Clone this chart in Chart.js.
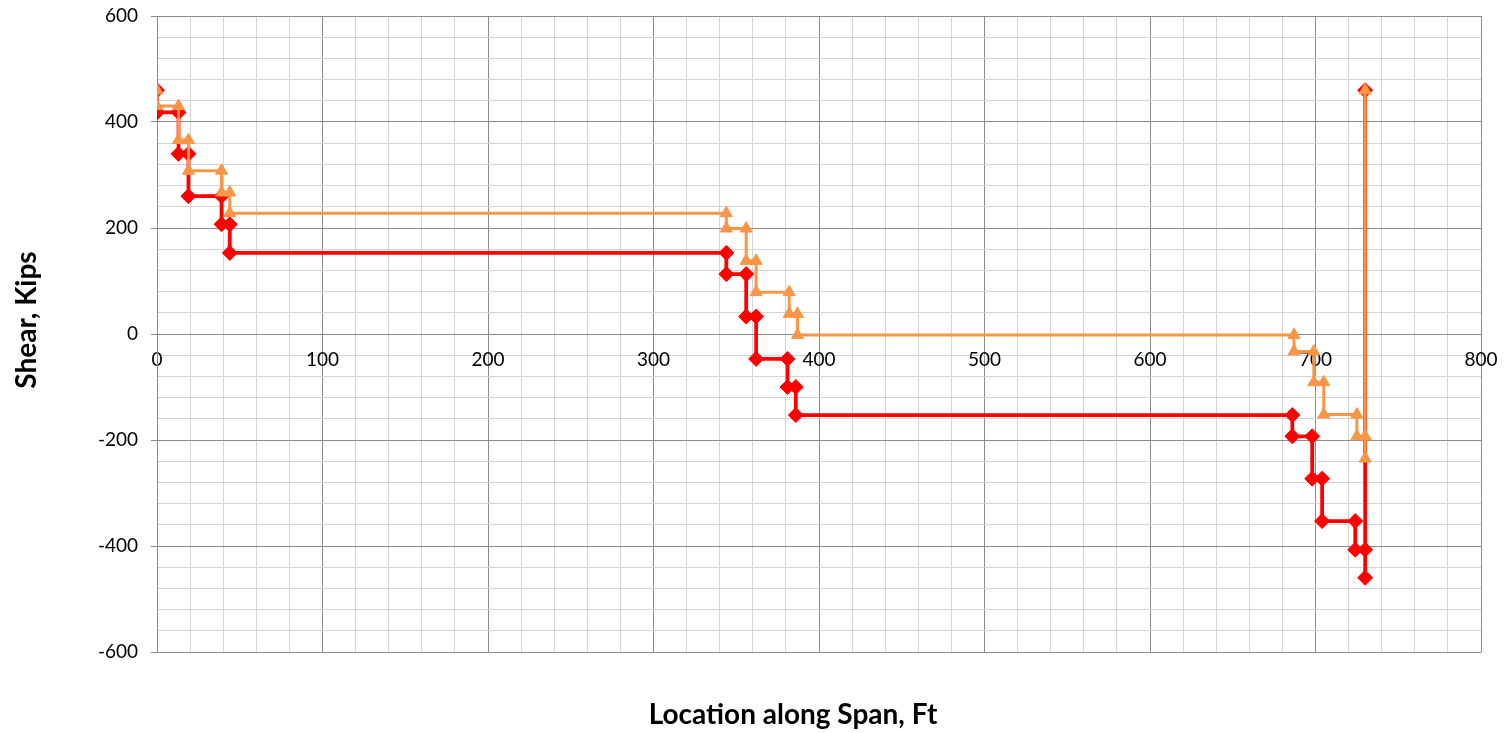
<!DOCTYPE html>
<html>
<head>
<meta charset="utf-8">
<title>Shear along span</title>
<script src="https://cdn.jsdelivr.net/npm/chart.js@4.4.1/dist/chart.umd.min.js"></script>
<style>
    body{ margin:0; background:#fff; }
    #wrap{ position:relative; width:1506px; height:733px; }
</style>
</head>
<body>
<div id="wrap"><canvas id="shear_graph"></canvas></div>
<script>
// location along span (ft) and shear (kips), red envelope
var redLoc   = [0, 0, 13, 13, 19, 19, 39, 39, 44, 44, 344, 344, 356, 356, 362, 362, 381, 381, 386, 386, 686, 686, 698, 698, 704, 704, 724, 724, 730, 730, 730];
var redShear = [460, 418, 418, 340, 340, 260, 260, 207, 207, 153, 153, 113, 113, 33, 33, -47, -47, -100, -100, -153, -153, -193, -193, -273, -273, -353, -353, -407, -407, -460, 460];

// orange envelope
var orangeLoc   = [0, 0, 13, 13, 19, 19, 39, 39, 44, 44, 344, 344, 356, 356, 362, 362, 382, 382, 387, 387, 687, 687, 699, 699, 705, 705, 725, 725, 730, 730, 730];
var orangeShear = [460, 430, 430, 366, 366, 308, 308, 267, 267, 228, 228, 199, 199, 138, 138, 79, 79, 38, 38, -2, -2, -33, -33, -91, -91, -152, -152, -193, -193, -235, 460];

// labelled ticks
var xLabels = [0, 100, 200, 300, 400, 500, 600, 700, 800];
var yLabels = [-600, -400, -200, 0, 200, 400, 600];

var majorGrid = '#8c8c8c';
var minorGrid = '#d4d4d4';

function points(xs, ys){
    var out = [];
    for(var i = 0; i < xs.length; i++){
        out.push({x: xs[i], y: ys[i]});
    }
    return out;
}

// axis titles drawn where excel puts them
const axisTitles = {
    id: 'axisTitles',
    afterDraw(chart){
        var ctx = chart.ctx;
        ctx.save();
        ctx.font = 'bold 28px Lato';
        ctx.fillStyle = '#000';
        ctx.textAlign = 'center';
        ctx.textBaseline = 'middle';
        ctx.fillText('Location along Span, Ft', 793, 715);
        ctx.translate(27, 320);
        ctx.rotate(-Math.PI / 2);
        ctx.fillText('Shear, Kips', 0, 0);
        ctx.restore();
    }
};

const data = {
    datasets: [{
        label: 'orange',
        data: points(orangeLoc, orangeShear),
        borderColor: '#f79646',
        backgroundColor: '#f79646',
        borderWidth: 3,
        pointStyle: 'triangle',
        pointRadius: 7,
        pointBorderWidth: 1,
        order: 1
    }, {
        label: 'red',
        data: points(redLoc, redShear),
        borderColor: '#ff0000',
        backgroundColor: '#ff0000',
        borderWidth: 3.75,
        pointStyle: 'rectRot',
        pointRadius: 7.5,
        pointBorderWidth: 1,
        order: 2
    }]
};

const config = {
    type: 'scatter',
    data: data,
    options: {
        responsive: true,
        maintainAspectRatio: false,
        animation: false,
        showLine: true,
        layout: {
            padding: {top: 16, right: 25, bottom: 81, left: 0}
        },
        plugins: {
            legend: {display: false},
            tooltip: {enabled: false}
        },
        scales: {
            x: {
                type: 'linear',
                min: 0,
                max: 800,
                position: {y: 0},
                ticks: {
                    stepSize: 20,
                    autoSkip: false,
                    maxRotation: 0,
                    padding: 14,
                    color: '#000',
                    font: {family: 'Lato', size: 19},
                    callback: function(v){ return xLabels.includes(v) ? String(v) : ''; }
                },
                grid: {
                    drawTicks: false,
                    color: function(c){ return xLabels.includes(c.tick.value) ? majorGrid : minorGrid; }
                },
                border: {display: true, color: majorGrid},
                afterFit: function(scale){ scale.paddingLeft = 0; scale.paddingRight = 0; }
            },
            y: {
                min: -600,
                max: 600,
                ticks: {
                    stepSize: 40,
                    autoSkip: false,
                    padding: 13,
                    color: '#000',
                    font: {family: 'Lato', size: 19},
                    callback: function(v){ return yLabels.includes(v) ? String(v) : ''; }
                },
                grid: {
                    tickLength: 6,
                    color: function(c){ return yLabels.includes(c.tick.value) ? majorGrid : minorGrid; },
                    tickColor: function(c){ return yLabels.includes(c.tick.value) ? majorGrid : 'rgba(0,0,0,0)'; }
                },
                border: {display: true, color: majorGrid},
                afterFit: function(scale){
                    scale.width = 157;
                    scale.paddingTop = 0;
                    scale.paddingBottom = 0;
                }
            }
        }
    },
    plugins: [axisTitles]
};

var chart = new Chart(document.getElementById('shear_graph'), config);
</script>
</body>
</html>
